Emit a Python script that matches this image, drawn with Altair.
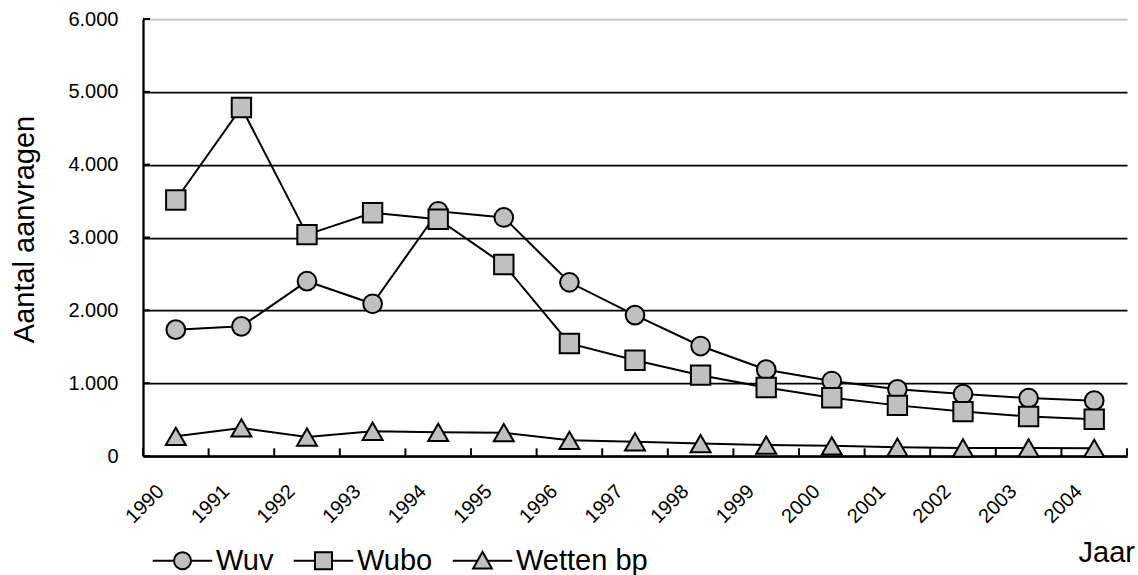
import altair as alt
import pandas as pd

# ---- data ----
jaren = [str(j) for j in range(1990, 2005)]
series = ["Wuv", "Wubo", "Wetten bp"]
wuv = [1735, 1780, 2400, 2090, 3360, 3275, 2385, 1935, 1510, 1185, 1030, 915, 850, 795, 760]
wubo = [3515, 4785, 3040, 3340, 3250, 2630, 1545, 1315, 1110, 940, 800, 695, 610, 543, 505]
wetten_bp = [270, 385, 260, 340, 325, 320, 215, 195, 170, 150, 140, 120, 110, 110, 105]
y_ticks = [0, 1000, 2000, 3000, 4000, 5000, 6000]

rows = []
for naam, waarden in zip(series, [wuv, wubo, wetten_bp]):
    for jaar, w in zip(jaren, waarden):
        rows.append({"jaar": jaar, "serie": naam, "aantal": w})
df = pd.DataFrame(rows)
ticks_df = pd.DataFrame({"jaar": jaren})
yticks_df = pd.DataFrame({"aantal": y_ticks})

FONT = "Liberation Sans"
GRAY = "#c0c0c0"

x_scale = alt.Scale(type="band", domain=jaren, paddingInner=0, paddingOuter=0)
x_enc = alt.X(
    "jaar:N",
    scale=x_scale,
    sort=jaren,
    title="Jaar",
    axis=alt.Axis(
        labelAngle=-45,
        labelAlign="right",
        labelBaseline="middle",
        labelFontSize=20,
        labelColor="black",
        labelPadding=32,
        labelOffset=-15,
        ticks=False,
        domainColor="black",
        domainWidth=2.3,
        grid=False,
        titleFontSize=29,
        titleFontWeight="normal",
        titleColor="black",
        titleAlign="left",
        titleBaseline="alphabetic",
        titleX=935,
        titleY=105,
    ),
)
y_scale = alt.Scale(domain=[0, 6000], nice=False, zero=True)
y_enc = alt.Y(
    "aantal:Q",
    scale=y_scale,
    title="Aantal aanvragen",
    axis=alt.Axis(
        values=y_ticks,
        labelExpr="replace(format(datum.value, ','), ',', '.')",
        labelFontSize=20,
        labelColor="black",
        labelPadding=25,
        ticks=False,
        domainColor="black",
        domainWidth=2.3,
        grid=True,
        gridColor={"condition": {"test": "datum.value == 6000", "value": GRAY}, "value": "black"},
        gridWidth=1.75,
        titleFontSize=29,
        titleFontWeight="normal",
        titleColor="black",
        titleAngle=-90,
        titleAlign="center",
        titleBaseline="alphabetic",
        titleX=-110,
        titleY=210,
    ),
)

lines = alt.Chart(df).mark_line(color="black", strokeWidth=2).encode(
    x=x_enc, y=y_enc, detail="serie:N"
)

points = alt.Chart(df).mark_point(
    filled=True, fill=GRAY, stroke="black", strokeWidth=2, opacity=1
).encode(
    x=x_enc,
    y=y_enc,
    shape=alt.Shape(
        "serie:N",
        scale=alt.Scale(domain=series, range=["circle", "square", "triangle-up"]),
        legend=None,
    ),
    size=alt.Size(
        "serie:N",
        scale=alt.Scale(domain=series, range=[350, 400, 420]),
        legend=None,
    ),
)

tick_rules = alt.Chart(ticks_df).mark_rule(color="black", strokeWidth=2).encode(
    x=alt.X("jaar:N", scale=x_scale, sort=jaren, bandPosition=0),
    y=alt.datum(0),
    y2=alt.datum(105),
)
end_rule = alt.Chart(ticks_df).transform_filter(
    alt.datum.jaar == jaren[-1]
).mark_rule(color="black", strokeWidth=2).encode(
    x=alt.X("jaar:N", scale=x_scale, sort=jaren, bandPosition=1),
    y=alt.datum(0),
    y2=alt.datum(105),
)
y_tick_rules = alt.Chart(yticks_df).mark_rule(color="black", strokeWidth=2).encode(
    y=alt.Y("aantal:Q", scale=y_scale),
    x=alt.value(0),
    x2=alt.value(7),
)

legend_paths = [
    "M-3.5,0L-1,0M1,0L3.5,0M-1,0A1,1,0,1,1,1,0A1,1,0,1,1,-1,0Z",
    "M-3.5,0L-1,0M1,0L3.5,0M-1,-1L1,-1L1,1L-1,1Z",
    "M-3.5,0L-0.59,0M0.59,0L3.5,0M0,-1.05L1.1,0.9L-1.1,0.9Z",
]
legend_layer = alt.Chart(df).transform_filter("false").mark_point(
    filled=False, strokeWidth=2, opacity=1
).encode(
    fill=alt.value(GRAY),
    stroke=alt.value("black"),
    shape=alt.Shape(
        "serie:N",
        scale=alt.Scale(domain=series, range=legend_paths),
        legend=alt.Legend(
            title=None,
            orient="none",
            direction="horizontal",
            columns=3,
            legendX=9,
            legendY=527,
            padding=0,
            symbolSize=289,
            symbolStrokeWidth=2,
            symbolOffset=16,
            labelOffset=19,
            labelFontSize=29,
            labelColor="black",
            labelFont=FONT,
            labelLimit=400,
            columnPadding=15,
        ),
    ),
)

chart = (
    alt.layer(lines, tick_rules, end_rule, y_tick_rules, points, legend_layer)
    .resolve_scale(shape="independent", size="independent")
    .properties(
        width=984,
        height=437,
        padding={"left": 143, "top": 19, "right": 11, "bottom": 119},
        autosize=alt.AutoSizeParams(type="none"),
        background="white",
    )
    .configure(font=FONT)
    .configure_view(strokeWidth=0)
)

chart.save("out.html", embed_options={"renderer": "svg", "actions": False})
